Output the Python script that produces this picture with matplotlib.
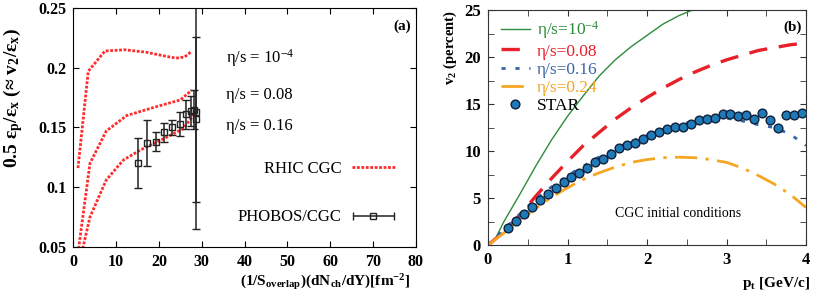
import numpy as np
import matplotlib
matplotlib.use('Agg')
import matplotlib.pyplot as plt
from matplotlib.legend_handler import HandlerErrorbar
from matplotlib.ticker import MultipleLocator

plt.rcParams['font.family'] = ['Liberation Serif', 'DejaVu Serif']
plt.rcParams['mathtext.fontset'] = 'custom'
plt.rcParams['mathtext.default'] = 'regular'

# ---- panel (a): RHIC CGC curves vs PHOBOS/CGC ----
x_eta0 = [1.1, 3.5, 7.4, 12.0, 17.0, 21.0, 24.0, 26.0, 27.4]
y_eta0 = [0.116, 0.197, 0.214, 0.215, 0.213, 0.210, 0.208, 0.209, 0.213]

x_eta08 = [1.0, 1.3, 3.9, 7.7, 12.5, 19.5, 25.0, 27.6]
y_eta08 = [0.030, 0.050, 0.120, 0.147, 0.160, 0.1675, 0.173, 0.181]

x_eta16 = [2.0, 2.3, 3.9, 7.7, 11.7, 15.6, 21.9, 25.7, 28.0]
y_eta16 = [0.030, 0.050, 0.075, 0.106, 0.1227, 0.131, 0.142, 0.149, 0.160]

x_phobos = [15.0, 17.1, 19.3, 21.2, 23.1, 24.9, 26.3, 27.5, 28.2, 28.6, 28.6]
y_phobos = [0.120, 0.137, 0.138, 0.146, 0.150, 0.153, 0.161, 0.164, 0.165, 0.163, 0.157]
e_phobos = [0.021, 0.019, 0.008, 0.008, 0.006, 0.010, 0.012, 0.0125, 0.016, 0.098, 0.069]

# ---- panel (b): v2(pt) ----
pt_green = [0, 0.1, 0.2, 0.4, 0.6, 0.8, 1.0, 1.2, 1.4, 1.6, 1.8, 2.0, 2.2, 2.4, 2.6]
v2_green = [0, 0.8, 2.5, 5.4, 8.4, 11.2, 13.7, 15.9, 18.0, 19.7, 21.1, 22.3, 23.5, 24.4, 25.1]

pt_curve = [0, 0.2, 0.4, 0.6, 0.8, 1.0, 1.2, 1.4, 1.6, 1.8, 2.0, 2.2, 2.4, 2.6, 2.8, 3.0,
            3.2, 3.4, 3.6, 3.8, 4.0]
v2_red = [0, 1.4, 3.2, 5.2, 7.1, 8.9, 10.6, 12.0, 13.4, 14.6, 15.7, 16.7, 17.6, 18.4,
          19.1, 19.7, 20.2, 20.7, 21.0, 21.3, 21.5]
v2_blue = [0, 1.7, 3.3, 4.9, 6.2, 7.4, 8.4, 9.4, 10.3, 11.0, 11.7, 12.3, 12.8, 13.2,
           13.5, 13.5, 13.2, 12.8, 12.5, 11.8, 10.6]
v2_orange = [0, 1.3, 2.7, 3.9, 5.1, 6.1, 7.0, 7.7, 8.3, 8.8, 9.1, 9.3, 9.35, 9.3,
             9.1, 8.8, 8.2, 7.4, 6.5, 5.4, 4.0]

pt_star = [0.25, 0.35, 0.45, 0.55, 0.65, 0.75, 0.85, 0.95, 1.05, 1.15, 1.25, 1.35, 1.45,
           1.55, 1.65, 1.75, 1.85, 1.95, 2.05, 2.15, 2.25, 2.35, 2.45, 2.55, 2.65, 2.75,
           2.85, 2.95, 3.05, 3.15, 3.25, 3.35, 3.45, 3.55, 3.65, 3.75, 3.85, 3.95]
v2_star = [1.84, 2.55, 3.3, 4.1, 4.8, 5.4, 6.06, 6.67, 7.2, 7.66, 8.2, 8.83, 9.18,
           9.72, 10.28, 10.6, 10.9, 11.24, 11.67, 11.99, 12.34, 12.6, 12.6, 12.9, 13.26,
           13.4, 13.55, 13.94, 13.9, 13.7, 13.8, 13.4, 14.04, 13.33, 12.48, 13.8, 13.83, 14.1]

fig = plt.figure(figsize=(8.14, 2.95), dpi=100)
ax1 = fig.add_axes([0.090, 0.163, 0.421, 0.810])
ax2 = fig.add_axes([0.5995, 0.169, 0.3907, 0.797])

# panel (a)
dot = (0, (1.0, 0.6))
red_a = '#ff2a2a'
l1, = ax1.plot(x_eta0, y_eta0, color=red_a, lw=2, ls=dot)
ax1.plot(x_eta08, y_eta08, color=red_a, lw=2, ls=dot)
ax1.plot(x_eta16, y_eta16, color=red_a, lw=2, ls=dot)
ax1.errorbar(x_phobos, y_phobos, yerr=e_phobos, fmt='s', mfc='none', mec='#222222',
             ms=5, mew=1, ecolor='#222222', elinewidth=1.1, capsize=3, capthick=1)
proxy = ax1.errorbar([np.nan], [np.nan], xerr=[1], fmt='s', mfc='none', mec='#222222',
                     ms=5, mew=1, ecolor='#222222', elinewidth=1.1, capsize=3, capthick=1)

ax1.set_xlim(0, 80)
ax1.set_ylim(0.05, 0.25)
ax1.set_xticks(range(0, 81, 10))
ax1.set_yticks([0.05, 0.1, 0.15, 0.2, 0.25])
ax1.set_yticklabels(['0.05', '0.1', '0.15', '0.2', '0.25'])
ax1.tick_params(direction='in', top=True, right=True, labelsize=11.5, length=4, pad=5)
for lab in ax1.get_xticklabels() + ax1.get_yticklabels():
    lab.set_fontweight('bold')

ax1.text(35.6, 0.208, r'η/s = 10$^{-4}$', fontsize=12, va='center')
ax1.text(35.6, 0.177, 'η/s = 0.08', fontsize=12, va='center')
ax1.text(35.6, 0.151, 'η/s = 0.16', fontsize=12, va='center')
ax1.text(0.985, 0.925, '(a)', transform=ax1.transAxes, fontsize=11, fontweight='bold',
         ha='right', va='center')

ax1.legend([l1, proxy], ['RHIC CGC', 'PHOBOS/CGC'], loc='lower right',
           bbox_to_anchor=(0.939, 0.09), frameon=False, markerfirst=False,
           fontsize=12, handlelength=2.6, handletextpad=0.6, labelspacing=1.95,
           borderpad=0, borderaxespad=0,
           handler_map={type(proxy): HandlerErrorbar(xerr_size=1.25)})

ax1.set_ylabel(r'0.5 ε$_p$/ε$_x$ (≈ v$_2$/ε$_x$)', fontsize=14, fontweight='bold')
ax1.yaxis.set_label_coords(-0.142, 0.625)
ax1.set_xlabel(r'(1/S$_{overlap}$)(dN$_{ch}$/dY)[fm$^{-2}$]', fontsize=11,
               fontweight='bold')
ax1.xaxis.set_label_coords(0.735, -0.105)

# panel (b)
c_green = '#2e8b3c'
c_red = '#e8202a'
c_blue = '#3a64a8'
c_orange = '#f5a623'
ax2.plot(pt_green, v2_green, color=c_green, lw=1, label=r'η/s=10$^{-4}$')
ax2.plot(pt_curve, v2_red, color=c_red, lw=2.4, ls=(0, (5.5, 3.5)), label='η/s=0.08')
ax2.plot(pt_curve, v2_blue, color=c_blue, lw=2, ls=(0, (1.5, 3.5)), label='η/s=0.16')
ax2.plot(pt_curve, v2_orange, color=c_orange, lw=2, ls=(0, (8, 3, 1.2, 3)),
         label='η/s=0.24')
ax2.plot(pt_star, v2_star, 'o', color='#1f7ab8', mec='#10203a', mew=1, ms=6.3,
         label='STAR')

ax2.set_xlim(0, 4)
ax2.set_ylim(0, 25)
ax2.xaxis.set_major_locator(MultipleLocator(1))
ax2.xaxis.set_minor_locator(MultipleLocator(0.5))
ax2.yaxis.set_major_locator(MultipleLocator(5))
ax2.yaxis.set_minor_locator(MultipleLocator(2.5))
ax2.tick_params(which='both', direction='in', top=True, right=True, length=4,
                color='#333333')
ax2.tick_params(labelsize=12, pad=5)
for lab in ax2.get_xticklabels() + ax2.get_yticklabels():
    lab.set_fontweight('bold')
for sp in ax2.spines.values():
    sp.set_color('#333333')

leg = ax2.legend(loc='upper left', bbox_to_anchor=(0.04, 0.96), frameon=False,
                 fontsize=12.5, handlelength=1.7, handletextpad=0.4, labelspacing=0.12,
                 borderpad=0, borderaxespad=0)
for txt, c in zip(leg.get_texts(), [c_green, c_red, c_blue, c_orange, 'black']):
    txt.set_color(c)

ax2.text(2.39, 3.4, 'CGC initial conditions', fontsize=10, ha='center', va='center')
ax2.text(0.985, 0.925, '(b)', transform=ax2.transAxes, fontsize=11, fontweight='bold',
         ha='right', va='center')

ax2.set_ylabel(r'v$_2$ (percent)', fontsize=10.5, fontweight='bold')
ax2.yaxis.set_label_coords(-0.09, 0.84)
ax2.set_xlabel(r'p$_t$ [GeV/c]', fontsize=11, fontweight='bold')
ax2.xaxis.set_label_coords(0.905, -0.125)

fig.savefig('out.png', dpi=100)
